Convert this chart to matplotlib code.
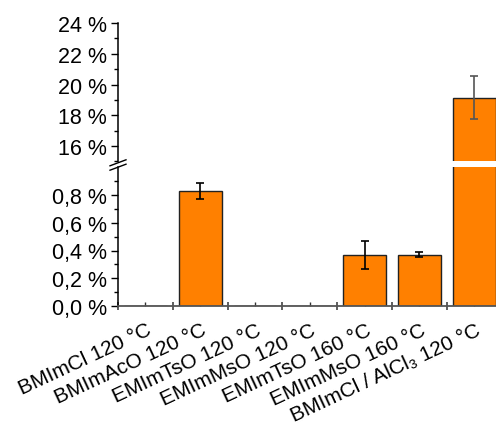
import matplotlib
matplotlib.use("Agg")
import matplotlib.pyplot as plt
from matplotlib.lines import Line2D
from matplotlib.ticker import FixedLocator, FuncFormatter
import numpy as np

plt.rcParams['font.family'] = ['Liberation Sans', 'DejaVu Sans']

categories = [
    "BMImCl 120 °C",
    "BMImAcO 120 °C",
    "EMImTsO 120 °C",
    "EMImMsO 120 °C",
    "EMImTsO 160 °C",
    "EMImMsO 160 °C",
    "BMImCl / AlCl\u2083 120 °C",
]
yield_pct = [0.0, 0.83, 0.0, 0.0, 0.37, 0.37, 19.15]
yield_err = [0.0, 0.06, 0.0, 0.0, 0.10, 0.02, 1.40]

W, H = 496, 427
fig = plt.figure(figsize=(W / 100, H / 100), dpi=100)

left = 118 / W
width = 383.6 / W
ax_lo = fig.add_axes([left, (H - 307) / H, width, 138.75 / H])
ax_hi = fig.add_axes([left, (H - 162.4) / H, width, 138.4 / H])

x = np.arange(1, len(categories) + 1)
bar_color = '#FF8000'
edge = '#222222'
fs = 15.5

for ax in (ax_lo, ax_hi):
    ax.bar(x, yield_pct, width=0.78, color=bar_color, edgecolor=edge,
           linewidth=1.0, zorder=2)
    for xi, v, e in zip(x, yield_pct, yield_err):
        if e > 0:
            col = '#555555' if v > 5 else 'black'
            ax.errorbar(xi, v, yerr=e, fmt='none', ecolor=col, elinewidth=1.2,
                        capsize=2.6, capthick=1.2, zorder=3)
    ax.set_xlim(0.5, 7.5)
    ax.spines['top'].set_visible(False)
    ax.spines['right'].set_visible(False)
    ax.spines['left'].set_linewidth(1.1)
    ax.tick_params(axis='y', which='major', direction='out', length=5,
                   width=1.0, labelsize=fs, pad=3)
    ax.tick_params(axis='y', which='minor', direction='out', length=3, width=1.0)

# lower range
ax_lo.set_ylim(0, 1.0)
ax_lo.yaxis.set_major_locator(FixedLocator([0.0, 0.2, 0.4, 0.6, 0.8]))
ax_lo.yaxis.set_minor_locator(FixedLocator([0.1, 0.3, 0.5, 0.7, 0.9]))
ax_lo.yaxis.set_major_formatter(
    FuncFormatter(lambda v, p: f"{v:.1f} %".replace('.', ',')))
ax_lo.spines['bottom'].set_color('#555555')
ax_lo.spines['bottom'].set_linewidth(1.3)
ax_lo.xaxis.set_major_locator(FixedLocator(np.arange(0.5, 7.6, 1.0)))
ax_lo.xaxis.set_minor_locator(FixedLocator(x))
ax_lo.tick_params(axis='x', which='major', direction='inout', length=6,
                  width=1.1, color='#333333', labelbottom=False)
ax_lo.tick_params(axis='x', which='minor', direction='in', length=3,
                  width=1.0, color='#333333')
for xi, lab in zip(x, categories):
    ax_lo.text(xi + 0.02, -0.10, lab, rotation=25, rotation_mode='anchor',
               ha='right', va='top', fontsize=15, transform=ax_lo.transData)

# upper range
ax_hi.set_ylim(15, 24)
ax_hi.yaxis.set_major_locator(FixedLocator([16, 18, 20, 22, 24]))
ax_hi.yaxis.set_minor_locator(FixedLocator([15, 17, 19, 21, 23]))
ax_hi.yaxis.set_major_formatter(FuncFormatter(lambda v, p: f"{int(v)} %"))
ax_hi.spines['bottom'].set_visible(False)
ax_hi.tick_params(axis='x', which='both', bottom=False, labelbottom=False)

# axis break marks
yb = (H - 166) / H
for dy in (-2.2, 2.2):
    fig.add_artist(Line2D([left - 8 / W, left + 8 / W],
                          [yb + (dy - 3) / H, yb + (dy + 3) / H],
                          color='black', lw=1.0, transform=fig.transFigure))

fig.savefig('out.png', dpi=100)
